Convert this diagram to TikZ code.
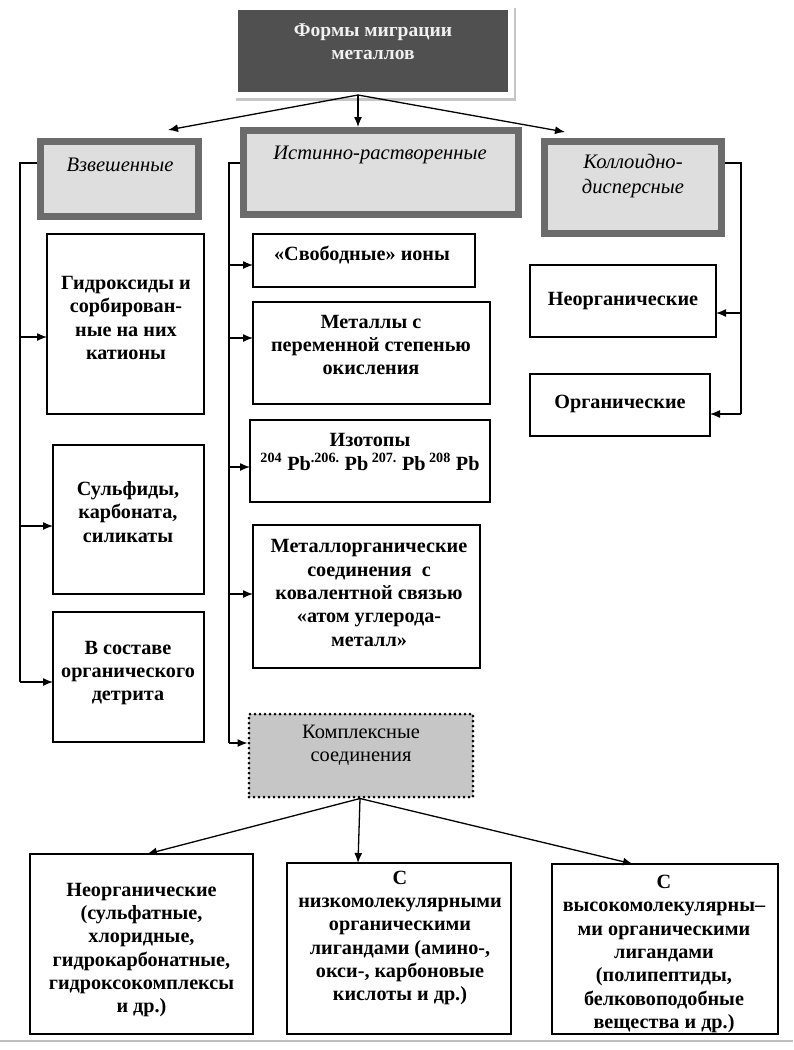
\documentclass[tikz,border=0pt]{standalone}
\usepackage{fontspec}
\setmainfont{Liberation Serif}
\usetikzlibrary{arrows.meta}
\definecolor{topdark}{HTML}{505050}
\definecolor{catborder}{HTML}{6B6B6B}
\definecolor{catfill}{HTML}{DEDEDE}
\definecolor{compfill}{HTML}{C6C6C6}
\begin{document}
\begin{tikzpicture}[x=1pt,y=-1pt,
  box/.style={draw=black, line width=1.4pt, fill=white, inner sep=0pt, outer sep=0pt},
  catbox/.style={draw=catborder, line width=7pt, fill=catfill, inner sep=0pt},
  topbox/.style={fill=topdark, inner sep=0pt, outer sep=0pt},
  compbox/.style={draw=black, fill=compfill, line width=3pt, line cap=round, dash pattern=on 0pt off 5pt, inner sep=0pt, outer sep=1.5pt},
  txt/.style={align=center, inner sep=0pt, font=\bfseries\fontsize{20.2}{23.3}\selectfont},
  itxt/.style={align=center, inner sep=0pt, font=\itshape\fontsize{20.6}{24.5}\selectfont},
  rtxt/.style={align=center, inner sep=0pt, font=\fontsize{20.4}{23.3}\selectfont},
  conn/.style={draw=black, line width=1.3pt},
  arr/.style={conn, -{Latex[length=10pt,width=8pt]}}
]
\useasboundingbox (0,0) rectangle (793,1050);

% top box with shadow frame
\coordinate (shA) at (236,99.5);
\coordinate (shB) at (515,99.5);
\coordinate (shC) at (515,8);
\draw[gray!45, line width=2.5pt] (shA) -- (shB) -- (shC);
\node[topbox, minimum width=270, minimum height=82] (top) at (373,51) {};
\node[txt, text=white!94!black, font=\bfseries\fontsize{19.5}{23.3}\selectfont] (topT) at (373,42) {Формы миграции\\металлов};

% category boxes
\node[catbox, minimum width=158, minimum height=75] (vzv) at (119.5,179) {};
\node[itxt] (vzvT) at (120,165) {Взвешенные};
\node[catbox, minimum width=275, minimum height=84] (ist) at (381,172.5) {};
\node[itxt] (istT) at (380,155) {Истинно-растворенные};
\node[catbox, minimum width=177, minimum height=92] (kol) at (633,187.5) {};
\node[itxt] (kolT) at (633,176) {Коллоидно-\\дисперсные};

% left column
\node[box, minimum width=157, minimum height=180] (g1) at (125.5,324) {};
\node[txt] (g1T) at (126,318) {Гидроксиды и\\сорбирован-\\ные на них\\катионы};
\node[box, minimum width=151, minimum height=149] (g2) at (128.5,519.5) {};
\node[txt] (g2T) at (128,512) {Сульфиды,\\карбоната,\\силикаты};
\node[box, minimum width=151, minimum height=130] (g3) at (128.5,677) {};
\node[txt] (g3T) at (128,673) {В составе\\органического\\детрита};

% middle column
\node[box, minimum width=222, minimum height=53] (m1) at (364,260.5) {};
\node[txt] (m1T) at (362,255) {«Свободные» ионы};
\node[box, minimum width=237, minimum height=102] (m2) at (371.5,353) {};
\node[txt] (m2T) at (371,345) {Металлы с\\переменной степенью\\окисления};
\node[box, minimum width=240, minimum height=82] (m3) at (370,461) {};
\node[txt] (m3T) at (370,452) {Изотопы\\\textsuperscript{204} Pb\textsuperscript{.206.} Pb\textsuperscript{ 207.} Pb\textsuperscript{ 208} Pb};
\node[box, minimum width=227, minimum height=143] (m4) at (366.5,596.5) {};
\node[txt] (m4T) at (369,593) {Металлорганические\\соединения~ с\\ковалентной связью\\«атом углерода-\\металл»};
\node[compbox, minimum width=224, minimum height=83] (comp) at (361,755.5) {};
\node[rtxt] (compT) at (361,745) {Комплексные\\соединения};

% right column
\node[box, minimum width=186, minimum height=72] (r1) at (623,301) {};
\node[txt] (r1T) at (623,301) {Неорганические};
\node[box, minimum width=180, minimum height=62] (r2) at (620,405) {};
\node[txt] (r2T) at (620,404) {Органические};

% bottom row
\node[box, minimum width=223, minimum height=180] (b1) at (141.5,944) {};
\node[txt] (b1T) at (141.5,950) {Неорганические\\(сульфатные,\\хлоридные,\\гидрокарбонатные,\\гидроксокомплексы\\и др.)};
\node[box, minimum width=224, minimum height=171] (b2) at (399,948.5) {};
\node[txt] (b2T) at (400,938) {С\\низкомолекулярными\\органическими\\лигандами (амино-,\\окси-, карбоновые\\кислоты и др.)};
\node[box, minimum width=226, minimum height=170] (b3) at (665,949) {};
\node[txt] (b3T) at (664,954) {С\\высокомолекулярны–\\ми органическими\\лигандами\\(полипептиды,\\белковоподобные\\вещества и др.)};

% top arrows
\draw[arr] ([xshift=-15pt,yshift=-3pt]top.south) -- ([xshift=48.5pt,yshift=8pt]vzv.north);
\draw[arr] ([xshift=-15pt,yshift=-3pt]top.south) -- ([xshift=-23pt]ist.north);
\draw[arr] ([xshift=-15pt,yshift=-3pt]top.south) -- ([xshift=-68pt,yshift=6pt]kol.north);

% left bus
\coordinate (L1) at (20,337);
\coordinate (L2) at (20,526);
\coordinate (L3) at (20,682);
\draw[conn] ([yshift=16pt]vzv.west) -| (L3);
\draw[arr] (L1) -- (L1 -| g1.west);
\draw[arr] (L2) -- (L2 -| g2.west);
\draw[arr] (L3) -- (L3 -| g3.west);

% middle bus
\coordinate (M1) at (229,265);
\coordinate (M2) at (229,338);
\coordinate (M3) at (229,467);
\coordinate (M4) at (229,594);
\coordinate (M5) at (229,743);
\draw[conn] ([yshift=9.5pt]ist.west) -| (M5);
\draw[arr] (M1) -- (M1 -| m1.west);
\draw[arr] (M2) -- (M2 -| m2.west);
\draw[arr] (M3) -- (M3 -| m3.west);
\draw[arr] (M4) -- (M4 -| m4.west);
\draw[arr] (M5) -- (M5 -| comp.west);

% right bus
\coordinate (R1) at (741,313);
\coordinate (R2) at (741,414);
\draw[conn] ([yshift=24.5pt]kol.east) -| (R2);
\draw[arr] (R1) -- (R1 -| r1.east);
\draw[arr] (R2) -- (R2 -| r2.east);

% bottom arrows
\draw[arr] ([xshift=-1pt]comp.south) -- ([xshift=5.5pt]b1.north);
\draw[arr] ([xshift=-1pt]comp.south) -- ([xshift=-41pt]b2.north);
\draw[arr] ([xshift=-1pt]comp.south) -- ([xshift=-32pt]b3.north);

% bottom rule
\coordinate (bl) at (0,1041);
\coordinate (br) at (793,1041);
\draw[gray!50, line width=1.5pt] (bl) -- (br);
\end{tikzpicture}
\end{document}
